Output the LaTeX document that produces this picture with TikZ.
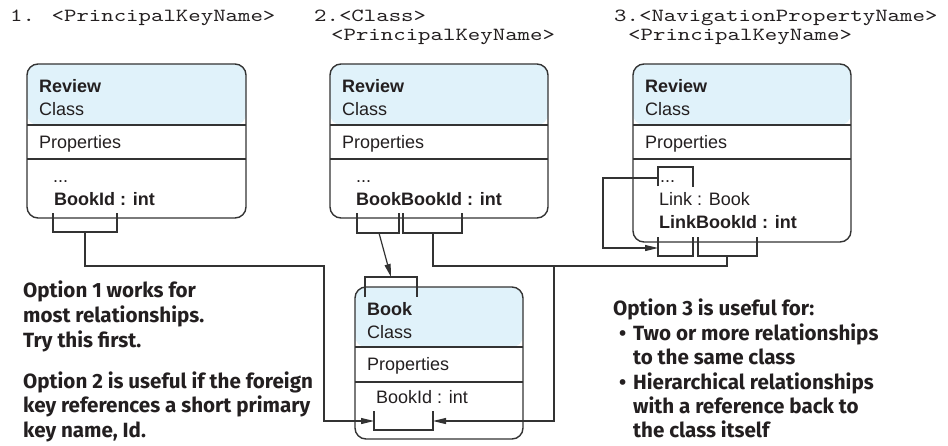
\documentclass[tikz,border=0pt]{standalone}
\usepackage{fontspec}
\setmainfont{Liberation Sans}
\newfontfamily\boxfont{Liberation Sans}
\newfontfamily\callfont{Fira Sans}
\newfontfamily\codefont{lmmono10-regular.otf}[FakeStretch=1.28]
\usetikzlibrary{arrows.meta}
\definecolor{hdr}{HTML}{E0F2FA}
\definecolor{ink}{HTML}{231F20}
\definecolor{ln}{HTML}{333333}
\begin{document}
\begin{tikzpicture}[x=1pt,y=-1pt,
  cbox/.style={draw=ln, line width=1.4pt, rounded corners=11pt, anchor=north west,
    inner sep=0pt, outer sep=0pt,
    path picture={\fill[hdr] (path picture bounding box.north west) rectangle ([yshift=-#1pt]path picture bounding box.north east);}},
  sepl/.style={draw=ln, line width=1.2pt},
  conn/.style={draw=ln, line width=1.2pt},
  arr/.style={-{Triangle[length=13pt,width=6pt]}},
  btxt/.style={anchor=base west, inner sep=0pt, text=ink, font=\boxfont\fontsize{18}{21}\selectfont},
  ctxt/.style={anchor=base west, inner sep=0pt, text height=11pt, text depth=1pt, text=ink, font=\codefont\fontsize{18.5}{22}\selectfont},
  otxt/.style={anchor=base west, inner sep=0pt, text=ink, font=\callfont\bfseries\fontsize{20.6}{24}\selectfont},
]
\useasboundingbox (0,0) rectangle (948,445);

% ---------- titles ----------
\node[ctxt] (t1) at (10,21.5) {1. <PrincipalKeyName>};
\node[ctxt] (t2a) at (314,21.5) {2.<Class>};
\node[ctxt] (t2b) at (331,40) {<PrincipalKeyName>};
\node[ctxt] (t3a) at (614,21.5) {3.<NavigationPropertyName>};
\node[ctxt] (t3b) at (628,40) {<PrincipalKeyName>};

% ---------- box 1 ----------
\node[cbox=61, minimum width=219pt, minimum height=154pt] (r1) at (27,64) {};
\draw[sepl] ([yshift=-61pt]r1.north west) -- ([yshift=-61pt]r1.north east);
\draw[sepl] ([yshift=-95pt]r1.north west) -- ([yshift=-95pt]r1.north east);
\node[btxt] (r1n) at (39,92) {\bfseries Review};
\node[btxt] (r1c) at (39,115) {Class};
\node[btxt] (r1p) at (39,148) {Properties};
\node[btxt] (r1d) at (53,182) {...};
\node[btxt] (r1k) at (54,205) {\bfseries BookId : int};

% ---------- box 2 ----------
\node[cbox=61, minimum width=218pt, minimum height=154pt] (r2) at (330,64) {};
\draw[sepl] ([yshift=-61pt]r2.north west) -- ([yshift=-61pt]r2.north east);
\draw[sepl] ([yshift=-95pt]r2.north west) -- ([yshift=-95pt]r2.north east);
\node[btxt] (r2n) at (342,92) {\bfseries Review};
\node[btxt] (r2c) at (342,115) {Class};
\node[btxt] (r2p) at (342,148) {Properties};
\node[btxt] (r2d) at (356,182) {...};
\node[btxt] (r2k) at (356,205) {\bfseries BookBookId : int};

% ---------- box 3 ----------
\node[cbox=61, minimum width=218pt, minimum height=178pt] (r3) at (633,64) {};
\draw[sepl] ([yshift=-61pt]r3.north west) -- ([yshift=-61pt]r3.north east);
\draw[sepl] ([yshift=-95pt]r3.north west) -- ([yshift=-95pt]r3.north east);
\node[btxt] (r3n) at (645,92) {\bfseries Review};
\node[btxt] (r3c) at (645,115) {Class};
\node[btxt] (r3p) at (645,148) {Properties};
\node[btxt] (r3d) at (660,182) {...};
\node[btxt] (r3l) at (659,205) {Link : Book};
\node[btxt] (r3k) at (659,228) {\bfseries LinkBookId : int};

% ---------- Book ----------
\node[cbox=60, minimum width=168pt, minimum height=152pt] (bk) at (355,287) {};
\draw[sepl] ([yshift=-60pt]bk.north west) -- ([yshift=-60pt]bk.north east);
\draw[sepl] ([yshift=-95pt]bk.north west) -- ([yshift=-95pt]bk.north east);
\node[btxt] (bkn) at (367,315) {\bfseries Book};
\node[btxt] (bkc) at (367,338) {Class};
\node[btxt] (bkp) at (367,370) {Properties};
\node[btxt] (bkk) at (376,403) {BookId : int};

% ---------- bracket coordinates ----------
\coordinate (b1L) at (53,213);   \coordinate (b1R) at (117,213);  \coordinate (b1s) at (85,232);
\coordinate (b2aL) at (357,213); \coordinate (b2aR) at (399,213); \coordinate (b2as) at (379,233);
\coordinate (b2bL) at (403,213); \coordinate (b2bR) at (462,213); \coordinate (b2bs) at (433,233);
\coordinate (b3aL) at (658,237); \coordinate (b3aR) at (693,237); \coordinate (b3ain) at (658,248);
\coordinate (b3bL) at (698,237); \coordinate (b3bR) at (757,237); \coordinate (b3bs) at (727,256);
\coordinate (d3L) at (658,186);  \coordinate (d3R) at (693,187);  \coordinate (d3s) at (658,178);
\coordinate (kTL) at (365,297);  \coordinate (kTR) at (417,297);  \coordinate (kT) at (391,277);
\coordinate (kBL) at (374,411);  \coordinate (kBR) at (433,411);
\coordinate (kinL) at (374,421); \coordinate (kinR) at (433,421);
\coordinate (j1) at (324,266);   \coordinate (j2) at (554,266);   \coordinate (c3) at (603,248);

% brackets
\draw[conn] (b1L) -- ++(0,19) -| (b1R);
\draw[conn] (b2aL) -- ++(0,20) -| (b2aR);
\draw[conn] (b2bL) -- ++(0,20) -| (b2bR);
\draw[conn] (b3aL) -- ++(0,19) -| (b3aR);
\draw[conn] (b3bL) -- ++(0,19) -| (b3bR);
\draw[conn] (d3L) -- ++(0,-19) -| (d3R);
\draw[conn] (kTL) -- ++(0,-20) -| (kTR);
\draw[conn] (kBL) -- ++(0,19) -| (kBR);

% connectors
\draw[conn,arr] (b1s) |- (j1) |- (kinL);
\draw[conn,arr] (b2as) -- (kT);
\draw[conn,arr] (b2bs) |- (j2) |- (kinR);
\draw[conn] (b3bs) |- (j2);
\draw[conn,arr] (d3s) -| (c3) -- (b3ain);

% ---------- callouts ----------
\node[otxt] (o1a) at (23,297) {Option 1 works for};
\node[otxt] (o1b) at (23,322) {most relationships.};
\node[otxt] (o1c) at (23,347) {Try this first.};
\node[otxt] (o2a) at (23,388) {Option 2 is useful if the foreign};
\node[otxt] (o2b) at (23,412) {key references a short primary};
\node[otxt] (o2c) at (23,437) {key name, Id.};

\node[otxt] (o3a) at (613,315) {Option 3 is useful for:};
\node[otxt] (o3u1) at (619,340) {•};
\node[otxt] (o3b) at (633,340) {Two or more relationships};
\node[otxt] (o3c) at (633,364) {to the same class};
\node[otxt] (o3u2) at (619,389) {•};
\node[otxt] (o3d) at (633,389) {Hierarchical relationships};
\node[otxt] (o3e) at (633,413) {with a reference back to};
\node[otxt] (o3f) at (633,437) {the class itself};
\end{tikzpicture}
\end{document}
